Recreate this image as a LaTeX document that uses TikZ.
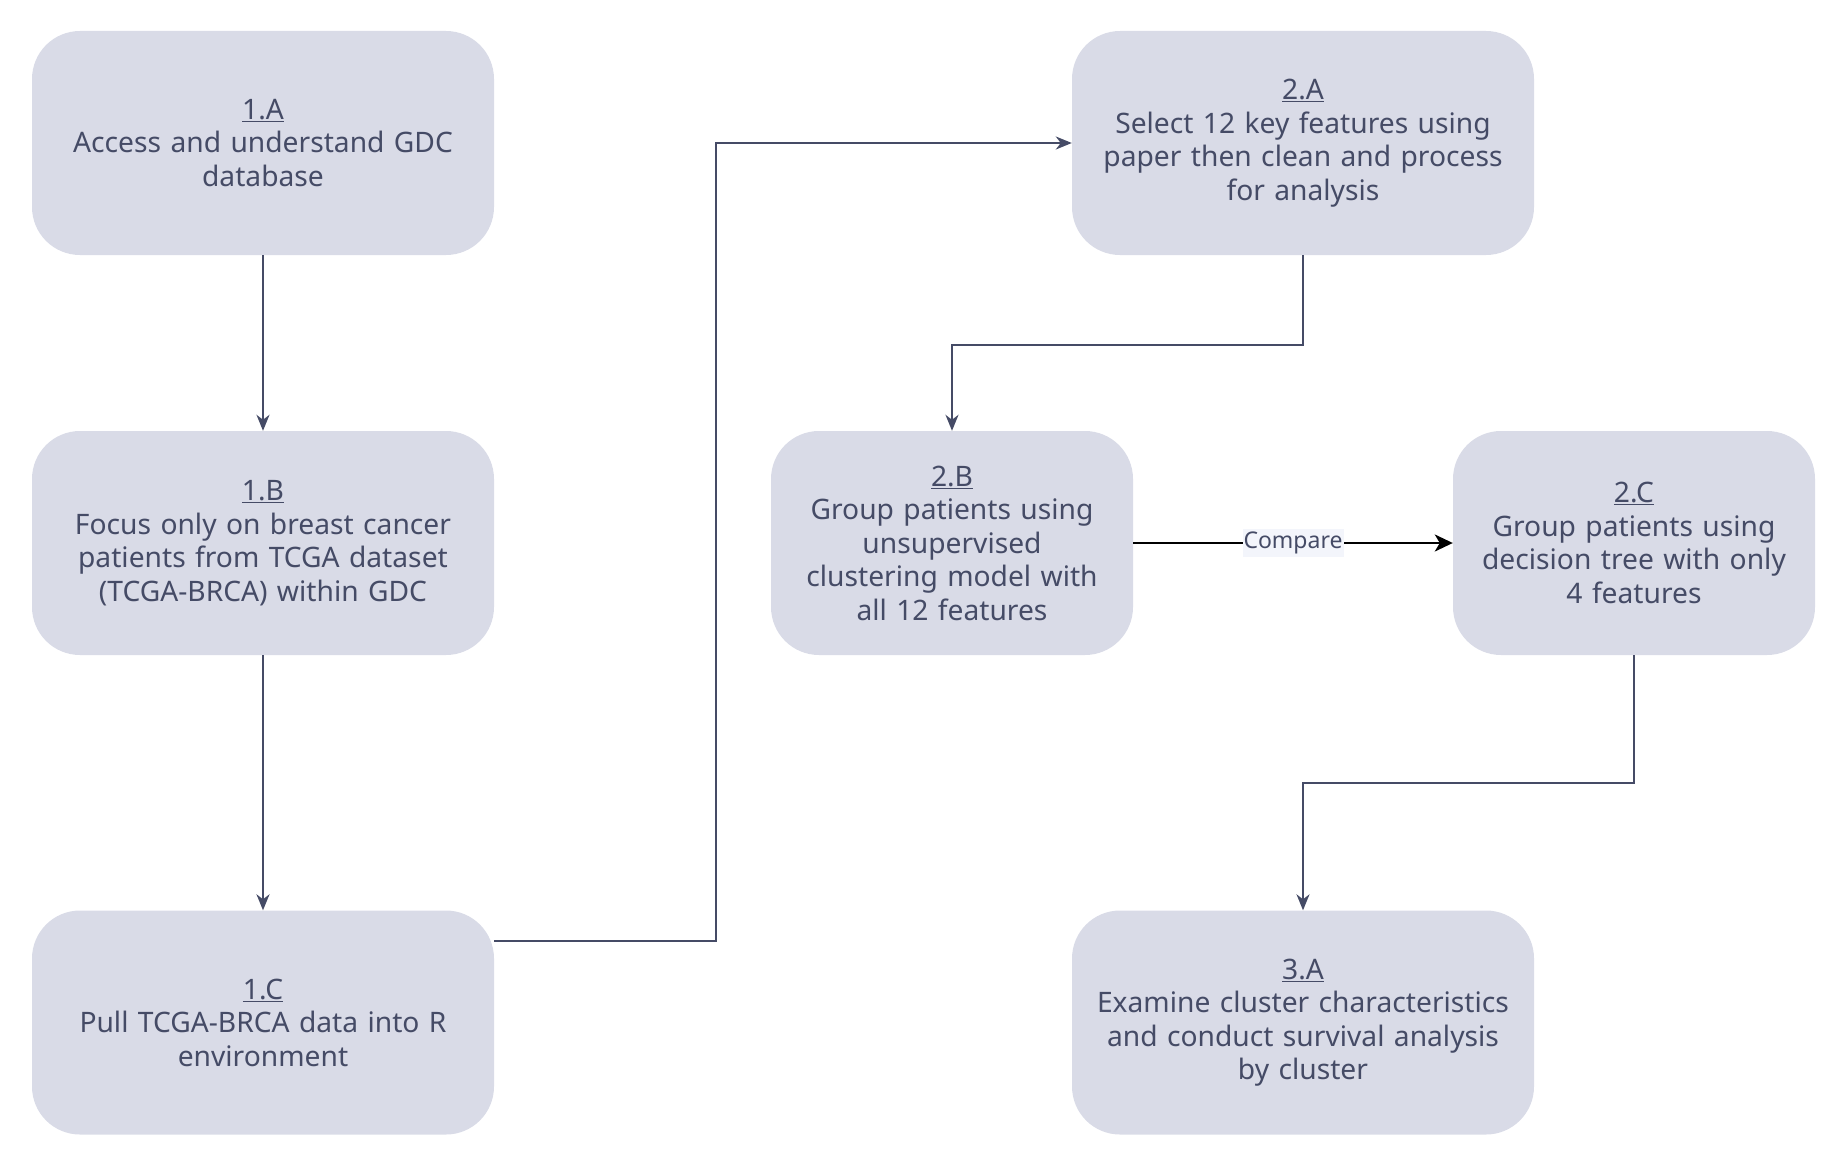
\documentclass[tikz,border=0pt]{standalone}
\usepackage{fontspec}
\setmainfont{Noto Sans}
\usetikzlibrary{arrows.meta,calc}
\definecolor{boxfill}{HTML}{D9DBE7}
\definecolor{ink}{HTML}{454B66}
\definecolor{lblbg}{HTML}{F3F5FB}
\begin{document}
\begin{tikzpicture}[x=1pt,y=-1pt,
  stepbox/.style={draw=none, fill=boxfill, rounded corners=48pt,
    minimum width=462pt, minimum height=224pt, text width=450pt,
    align=center, text=ink, inner sep=0pt,
    font=\fontsize{28.2}{33.5}\selectfont},
  narrowbox/.style={stepbox, minimum width=362pt, text width=350pt},
  flow/.style={draw=ink, line width=2pt,
    -{Stealth[length=16pt,width=13pt,inset=5pt]}},
  cmp/.style={draw=black, line width=2pt,
    -{Stealth[length=18pt,width=17pt,inset=5pt]}},
  lbl/.style={fill=lblbg, text=ink, inner xsep=1pt, inner ysep=3pt,
    font=\fontsize{23}{26}\selectfont}
]
\useasboundingbox (0,0) rectangle (1844,1164);

\node[stepbox] (a1) at (263,143) {\underline{1.A}\\Access and understand GDC\\database};
\node[stepbox] (b1) at (263,543) {\underline{1.B}\\Focus only on breast cancer\\patients from TCGA dataset\\(TCGA-BRCA) within GDC};
\node[stepbox] (c1) at (263,1022.5) {\underline{1.C}\\Pull TCGA-BRCA data into R\\environment};
\node[stepbox] (a2) at (1303,143) {\underline{2.A}\\Select 12 key features using\\paper then clean and process\\for analysis};
\node[narrowbox] (b2) at (952,543) {\underline{2.B}\\Group patients using\\unsupervised\\clustering model with\\all 12 features};
\node[narrowbox] (c2) at (1634,543) {\underline{2.C}\\Group patients using\\decision tree with only\\4 features};
\node[stepbox] (a3) at (1303,1022.5) {\underline{3.A}\\Examine cluster characteristics\\and conduct survival analysis\\by cluster};

\coordinate (c1out) at ($(c1.north east)+(0,31)$);

\draw[flow] (a1) -- (b1);
\draw[flow] (b1) -- (c1);
\draw[flow] (c1out) -- ++(222,0) |- (a2.west);
\draw[flow] (a2.south) -- ++(0,90) -| (b2.north);
\draw[flow] (c2.south) -- ++(0,128) -| (a3.north);
\draw[cmp] (b2) -- node[lbl] {Compare} (c2);
\end{tikzpicture}
\end{document}
